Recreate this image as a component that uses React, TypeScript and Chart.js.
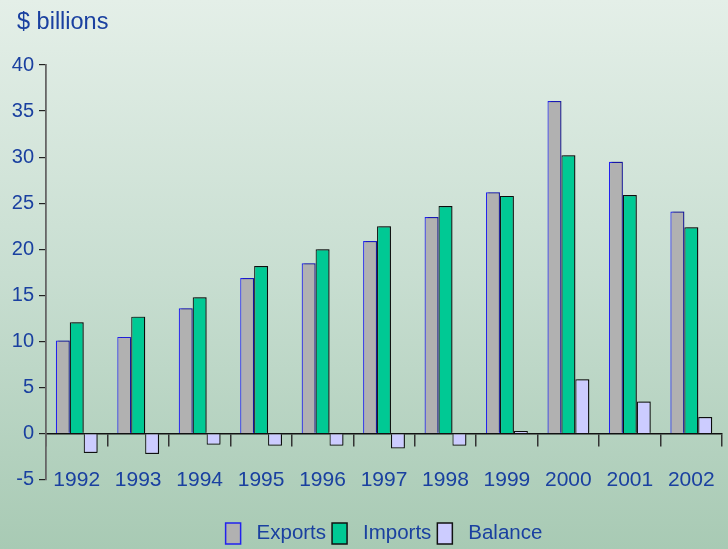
import React, { useEffect, useRef } from "react";
import { Chart, registerables } from "chart.js";

Chart.register(...registerables);

const years = ["1992", "1993", "1994", "1995", "1996", "1997", "1998", "1999", "2000", "2001", "2002"];
const exportsVals = [10.1, 10.5, 13.6, 16.9, 18.5, 20.9, 23.5, 26.2, 36.1, 29.5, 24.1];
const importsVals = [12.1, 12.7, 14.8, 18.2, 20.0, 22.5, 24.7, 25.8, 30.2, 25.9, 22.4];
const balanceVals = [-2.1, -2.2, -1.2, -1.3, -1.3, -1.6, -1.3, 0.3, 5.9, 3.5, 1.8];
const unitTitle = "$ billions";

const TEXT = "#1a40a0";
const FONT = "'Liberation Sans', Arial, sans-serif";

const bgPlugin = {
  id: "bg",
  beforeDraw(chart: any) {
    const { ctx, width, height } = chart;
    const g = ctx.createLinearGradient(0, 0, 0, height);
    g.addColorStop(0, "#e4efe8");
    g.addColorStop(0.5, "#c8ded1");
    g.addColorStop(1, "#a8cab4");
    ctx.save();
    ctx.fillStyle = g;
    ctx.fillRect(0, 0, width, height);
    ctx.restore();
  },
  afterDraw(chart: any) {
    const ctx = chart.ctx;
    ctx.save();
    ctx.fillStyle = TEXT;
    ctx.font = `23.5px ${FONT}`;
    ctx.textBaseline = "alphabetic";
    ctx.textAlign = "left";
    ctx.fillText(unitTitle, 17, 29);
    ctx.restore();
  },
};

const shadowPlugin = {
  id: "barShadow",
  beforeDatasetDraw(chart: any) {
    const ctx = chart.ctx;
    ctx.save();
    ctx.shadowColor = "rgba(0,0,0,0.35)";
    ctx.shadowOffsetX = 2;
    ctx.shadowOffsetY = -1;
    ctx.shadowBlur = 1;
  },
  afterDatasetDraw(chart: any) {
    chart.ctx.restore();
  },
};

export default function App() {
  const ref = useRef<HTMLCanvasElement>(null);
  useEffect(() => {
    document.body.style.margin = "0";
    const chart = new Chart(ref.current!, {
      type: "bar",
      data: {
        labels: years,
        datasets: [
          {
            label: "Exports",
            data: exportsVals,
            backgroundColor: "#b1b1b1",
            borderColor: "#2222ee",
            borderWidth: 1.2,
          },
          {
            label: "Imports",
            data: importsVals,
            backgroundColor: "#00c994",
            borderColor: "#111111",
            borderWidth: 1.2,
          },
          {
            label: "Balance",
            data: balanceVals,
            backgroundColor: "#ccccff",
            borderColor: "#111111",
            borderWidth: 1.2,
          },
        ],
      },
      plugins: [bgPlugin, shadowPlugin],
      options: {
        animation: false,
        responsive: false,
        devicePixelRatio: 1,
        layout: { padding: { left: 0, right: 6, top: 65, bottom: -5 } },
        datasets: {
          bar: { categoryPercentage: 0.68, barPercentage: 1 },
        },
        plugins: {
          tooltip: { enabled: false },
          title: { display: false },
          legend: {
            position: "bottom",
            fullSize: false,
            title: { display: true, text: " ", font: { size: 1 }, padding: 18 },
            labels: {
              color: TEXT,
              font: { family: FONT, size: 20.5 },
              boxWidth: 15,
              boxHeight: 21,
              padding: 6,
              generateLabels(chart: any) {
                return chart.data.datasets.map((ds: any, i: number) => ({
                  text: " " + ds.label,
                  fillStyle: ds.backgroundColor,
                  strokeStyle: ds.borderColor,
                  lineWidth: 1.5,
                  fontColor: TEXT,
                  hidden: false,
                  datasetIndex: i,
                }));
              },
            },
          },
        },
        scales: {
          x: {
            position: { y: 0 } as any,
            afterFit(s: any) {
              s.paddingLeft = 0;
              s.paddingRight = 0;
            },
            grid: {
              offset: true,
              drawOnChartArea: false,
              drawTicks: true,
              tickLength: 12,
              color: "#333",
              lineWidth: 1.5,
            },
            border: { display: true, color: "#111", width: 1.5 },
            ticks: {
              color: TEXT,
              font: { family: FONT, size: 21 },
              padding: 22,
              maxRotation: 0,
            },
          },
          y: {
            min: -5,
            max: 40,
            afterFit(s: any) {
              s.width = 46;
            },
            ticks: {
              stepSize: 5,
              color: TEXT,
              font: { family: FONT, size: 20 },
              padding: 5,
            },
            grid: {
              drawOnChartArea: false,
              drawTicks: true,
              tickLength: 7,
              color: "#222",
              lineWidth: 1.2,
            },
            border: { display: true, color: "#666", width: 1.8 },
          },
        },
      } as any,
    });
    return () => chart.destroy();
  }, []);
  return (
    <div style={{ width: 728, height: 549 }}>
      <canvas ref={ref} width={728} height={549} />
    </div>
  );
}
